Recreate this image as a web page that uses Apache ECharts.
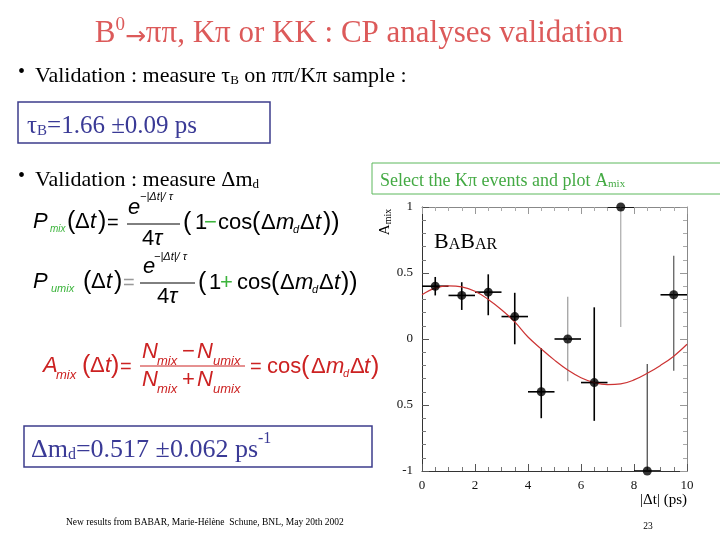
<!DOCTYPE html>
<html><head><meta charset="utf-8">
<script src="https://cdn.jsdelivr.net/npm/echarts@6/dist/echarts.min.js"></script>
<style>html,body{margin:0;padding:0;background:#fff}#c{width:720px;height:540px}</style>
</head><body><div id="c"></div>
<script>
// ---- data ----
const binCenters = [0.5, 1.5, 2.5, 3.5, 4.5, 5.5, 6.5, 7.5, 8.5, 9.5];
const binLow     = [0, 1, 2, 3, 4, 5, 6, 7, 8, 9];
const binHigh    = [1, 2, 3, 4, 5, 6, 7, 8, 9, 10];
const amixValues = [0.40, 0.33, 0.355, 0.17, -0.40, 0.0, -0.33, 1.0, -1.0, 0.335];
const amixErrLow = [0.33, 0.22, 0.18, -0.04, -0.60, -0.32, -0.62, 0.09, -1.0, -0.24];
const amixErrHigh= [0.47, 0.43, 0.49, 0.35, -0.07, 0.32, 0.24, 1.0, -0.19, 0.63];
const fitT = [0, 0.5, 1, 1.5, 2, 2.5, 3, 3.5, 4, 4.5, 5, 5.5, 6, 6.5, 7, 7.5, 8, 8.5, 9, 9.5, 10];
const fitA = [0.335, 0.385, 0.402, 0.395, 0.362, 0.30, 0.222, 0.13, 0.015, -0.075, -0.16, -0.235, -0.293, -0.33, -0.345, -0.34, -0.31, -0.26, -0.20, -0.13, -0.04];
const yTickValues = [-1, -0.5, 0, 0.5, 1];
const yTickLabels = ['-1', '0.5', '0', '0.5', '1'];
const xTickLabels = ['0', '2', '4', '6', '8', '10'];

// ---- styling ----
const SERIF = '"Liberation Serif","Times New Roman",serif';
const SANS = '"Liberation Sans",Arial,sans-serif';
const GREEN = '#3cb43c', RED = '#cc2222', BLUE = '#3a3a96', TITLE = '#dc5a5a';
const vBarColors = ['#000','#000','#000','#000','#000','#9a9a9a','#000','#aaaaaa','#444','#555'];

function T(x, y, text, font, fill, align) {
  return {type:'text', x:x, y:y, silent:true,
    style:{text:text, font:font, fill:fill||'#000', align:align||'left', verticalAlign:'middle'}};
}
function L(x1, y1, x2, y2, color, w) {
  return {type:'line', silent:true, shape:{x1:x1,y1:y1,x2:x2,y2:y2}, style:{stroke:color||'#000', lineWidth:w||1}};
}
const f = (sz, it) => (it ? 'italic ' : '') + sz + 'px ' + SANS;

const g = [];
// title
g.push({type:'text', x:359, y:32, silent:true, style:{
  text:'{a|B}{b|0}{r|→}{a|ππ, Kπ or KK : CP analyses validation}', align:'center', verticalAlign:'middle',
  rich:{a:{fontSize:31, fontFamily:SERIF, fill:TITLE, lineHeight:35, verticalAlign:'bottom'},
        b:{fontSize:19, fontFamily:SERIF, fill:TITLE, lineHeight:35, verticalAlign:'top', padding:[1,0,0,0]},
        r:{fontSize:25, fontFamily:'"DejaVu Sans",sans-serif', fill:TITLE, lineHeight:31, verticalAlign:'bottom'}}}});
// bullet 1
g.push(T(18, 73, '•', '20px ' + SERIF));
g.push({type:'text', x:35, y:73, silent:true, style:{
  text:'{a|Validation : measure τ}{s|B}{a| on ππ/Kπ sample :}', align:'left', verticalAlign:'middle',
  rich:{a:{fontSize:22, fontFamily:SERIF, fill:'#000', lineHeight:28, verticalAlign:'bottom'},
        s:{fontSize:13, fontFamily:SERIF, fill:'#000', lineHeight:24, verticalAlign:'bottom'}}}});
// box 1
g.push({type:'rect', silent:true, shape:{x:18, y:102, width:252, height:41}, style:{fill:'none', stroke:'#3c3c8c', lineWidth:1.5}});
g.push({type:'text', x:27, y:124, silent:true, style:{
  text:'{a|τ}{s|B}{a|=1.66 ±0.09 ps}', align:'left', verticalAlign:'middle',
  rich:{a:{fontSize:25, fontFamily:SERIF, fill:BLUE, lineHeight:30, verticalAlign:'bottom'},
        s:{fontSize:15, fontFamily:SERIF, fill:BLUE, lineHeight:24, verticalAlign:'bottom'}}}});
// bullet 2
g.push(T(18, 177, '•', '20px ' + SERIF));
g.push({type:'text', x:35, y:177, silent:true, style:{
  text:'{a|Validation : measure Δm}{s|d}', align:'left', verticalAlign:'middle',
  rich:{a:{fontSize:22, fontFamily:SERIF, fill:'#000', lineHeight:28, verticalAlign:'bottom'},
        s:{fontSize:13, fontFamily:SERIF, fill:'#000', lineHeight:24, verticalAlign:'bottom'}}}});
// green box
g.push({type:'rect', silent:true, shape:{x:372, y:163, width:360, height:31}, style:{fill:'none', stroke:'#5cb85c', lineWidth:1}});
g.push({type:'text', x:380, y:179, silent:true, style:{
  text:'{a|Select the Kπ events and plot A}{s|mix}', align:'left', verticalAlign:'middle',
  rich:{a:{fontSize:18, fontFamily:SERIF, fill:'#44aa44', lineHeight:22, verticalAlign:'bottom'},
        s:{fontSize:11, fontFamily:SERIF, fill:'#44aa44', lineHeight:18, verticalAlign:'bottom'}}}});

// formula 1 : P_mix
(function(){
  const y = 222;
  g.push(T(33, y, 'P', f(22,1)), T(50, y+7, 'mix', f(10,1), GREEN),
    T(67, y, '(', f(25)), T(75, y, 'Δ', f(22)), T(90, y, 't', f(22,1)), T(98, y, ')', f(25)),
    T(107, y+1, '=', f(20)),
    T(128, 208, 'e', f(22,1)), T(140, 197, '−|Δt|/ τ', f(11,1)),
    L(127, 224, 180, 224, '#000', 1),
    T(142, 239, '4', f(22)), T(154, 239, 'τ', f(22,1)),
    T(183, y+1, '(', f(25)), T(195, y+1, '1', f(22)), T(204, y+1, '−', f(22), GREEN),
    T(218, y+1, 'cos', f(22)), T(252, y+1, '(', f(25)), T(261, y+1, 'Δ', f(22)),
    T(276, y+1, 'm', f(22,1)), T(293, y+8, 'd', f(11,1)), T(300, y+1, 'Δ', f(22)),
    T(315, y+1, 't', f(22,1)), T(323, y+1, '))', f(25)));
})();
// formula 2 : P_umix
(function(){
  const y = 282;
  g.push(T(33, y, 'P', f(22,1)), T(51, y+7, 'umix', f(11,1), GREEN),
    T(83, y, '(', f(25)), T(91, y, 'Δ', f(22)), T(106, y, 't', f(22,1)), T(114, y, ')', f(25)),
    T(123, y+1, '=', f(20), '#999'),
    T(143, 267, 'e', f(22,1)), T(154, 257, '−|Δt|/ τ', f(11,1)),
    L(140, 283, 195, 283, '#000', 1),
    T(157, 297, '4', f(22)), T(169, 297, 'τ', f(22,1)),
    T(198, y+1, '(', f(25)), T(209, y+1, '1', f(22)), T(220, y+1, '+', f(22), GREEN),
    T(237, y+1, 'cos', f(22)), T(271, y+1, '(', f(25)), T(280, y+1, 'Δ', f(22)),
    T(295, y+1, 'm', f(22,1)), T(312, y+8, 'd', f(11,1)), T(319, y+1, 'Δ', f(22)),
    T(334, y+1, 't', f(22,1)), T(341, y+1, '))', f(25)));
})();
// formula 3 : A_mix
(function(){
  const y = 366;
  g.push(T(43, y, 'A', f(22,1), RED), T(56, y+9, 'mix', f(13,1), RED),
    T(82, y, '(', f(25), RED), T(90, y, 'Δ', f(22), RED), T(105, y, 't', f(22,1), RED), T(111, y, ')', f(25), RED),
    T(120, y+1, '=', f(20), RED),
    T(142, 352, 'N', f(22,1), RED), T(157, 361, 'mix', f(13,1), RED), T(182, 352, '−', f(22), RED),
    T(197, 352, 'N', f(22,1), RED), T(213, 361, 'umix', f(13,1), RED),
    L(140, 366, 245, 366, RED, 1),
    T(142, 380, 'N', f(22,1), RED), T(157, 389, 'mix', f(13,1), RED), T(182, 380, '+', f(22), RED),
    T(197, 380, 'N', f(22,1), RED), T(213, 389, 'umix', f(13,1), RED),
    T(250, y+1, '=', f(20), RED), T(267, y+1, 'cos', f(22), RED), T(301, y+1, '(', f(25), RED),
    T(311, y+1, 'Δ', f(22), RED), T(326, y+1, 'm', f(22,1), RED), T(343, y+8, 'd', f(11,1), RED),
    T(350, y+1, 'Δ', f(22), RED), T(364, y+1, 't', f(22,1), RED), T(371, y+1, ')', f(25), RED));
})();
// box 2
g.push({type:'rect', silent:true, shape:{x:24, y:426, width:348, height:41}, style:{fill:'none', stroke:'#3c3c8c', lineWidth:1.5}});
g.push({type:'text', x:31, y:447, silent:true, style:{
  text:'{a|Δm}{s|d}{a|=0.517 ±0.062 ps}{p|-1}', align:'left', verticalAlign:'middle',
  rich:{a:{fontSize:26, fontFamily:SERIF, fill:BLUE, lineHeight:32, verticalAlign:'bottom'},
        s:{fontSize:16, fontFamily:SERIF, fill:BLUE, lineHeight:26, verticalAlign:'bottom'},
        p:{fontSize:16, fontFamily:SERIF, fill:BLUE, lineHeight:32, verticalAlign:'top'}}}});
// footer
g.push(T(66, 522, 'New results from BABAR, Marie-Hélène  Schune, BNL, May 20th 2002', '9.5px ' + SERIF));
g.push(T(648, 526, '23', '9.5px ' + SERIF, '#000', 'center'));
// plot decorations
g.push({type:'text', x:434, y:240, silent:true, style:{
  text:'{b|B}{a|A}{b|B}{a|AR}', align:'left', verticalAlign:'middle',
  rich:{b:{fontSize:22, fontFamily:SERIF, fill:'#000', lineHeight:26, verticalAlign:'bottom'},
        a:{fontSize:16, fontFamily:SERIF, fill:'#000', lineHeight:24, verticalAlign:'bottom'}}}});
g.push({type:'text', x:384, y:222, rotation:Math.PI/2, silent:true, style:{
  text:'{a|A}{s|mix}', align:'center', verticalAlign:'middle',
  rich:{a:{fontSize:15, fontFamily:SERIF, fill:'#000', lineHeight:18, verticalAlign:'bottom'},
        s:{fontSize:10, fontFamily:SERIF, fill:'#000', lineHeight:14, verticalAlign:'bottom'}}}});
g.push(T(687, 500, '|Δt| (ps)', '15px ' + SERIF, '#000', 'right'));

const chart = echarts.init(document.getElementById('c'), null, {renderer:'canvas'});
const axisCommon = {type:'value', splitLine:{show:false}};
const labelStyle = {fontFamily:SERIF, fontSize:13, color:'#111'};
chart.setOption({
  backgroundColor:'#fff',
  animation:false,
  grid:{left:422, top:207, width:265, height:264},
  xAxis:[
    Object.assign({}, axisCommon, {min:0, max:10, interval:2, position:'bottom',
      axisLine:{onZero:false, lineStyle:{color:'#333', width:1}},
      axisTick:{inside:true, length:7, lineStyle:{color:'#555'}},
      minorTick:{show:true, splitNumber:4, length:4, lineStyle:{color:'#777'}},
      axisLabel:Object.assign({margin:8, formatter:v => xTickLabels[Math.round(v/2)]}, labelStyle)}),
    Object.assign({}, axisCommon, {min:0, max:10, interval:2, position:'top',
      axisLine:{onZero:false, lineStyle:{color:'#888', width:1}},
      axisTick:{inside:true, length:7, lineStyle:{color:'#999'}},
      minorTick:{show:true, splitNumber:4, length:4, lineStyle:{color:'#aaa'}},
      axisLabel:{show:false}})
  ],
  yAxis:[
    Object.assign({}, axisCommon, {min:-1, max:1, interval:0.5, position:'left',
      axisLine:{onZero:false, lineStyle:{color:'#333', width:1}},
      axisTick:{inside:true, length:7, lineStyle:{color:'#555'}},
      minorTick:{show:true, splitNumber:5, length:4, lineStyle:{color:'#777'}},
      axisLabel:Object.assign({margin:9, formatter:v => {
        const i = yTickValues.findIndex(t => Math.abs(t - v) < 1e-6); return i >= 0 ? yTickLabels[i] : '';}}, labelStyle)}),
    Object.assign({}, axisCommon, {min:-1, max:1, interval:0.5, position:'right',
      axisLine:{onZero:false, lineStyle:{color:'#888', width:1}},
      axisTick:{inside:true, length:7, lineStyle:{color:'#999'}},
      minorTick:{show:true, splitNumber:5, length:4, lineStyle:{color:'#aaa'}},
      axisLabel:{show:false}})
  ],
  series:[
    {type:'custom', xAxisIndex:0, yAxisIndex:0, clip:true, z:2,
      data: binCenters.map((x, i) => [x, amixValues[i], amixErrLow[i], amixErrHigh[i], binLow[i], binHigh[i]]),
      encode:{x:[0,4,5], y:[1,2,3]},
      renderItem:function(params, api){
        const i = params.dataIndex;
        const lo = api.coord([api.value(0), api.value(2)]);
        const hi = api.coord([api.value(0), api.value(3)]);
        const l = api.coord([api.value(4), api.value(1)]);
        const r = api.coord([api.value(5), api.value(1)]);
        return {type:'group', children:[
          {type:'line', shape:{x1:l[0], y1:l[1], x2:r[0], y2:r[1]}, style:{stroke:'#000', lineWidth:1.6}},
          {type:'line', shape:{x1:lo[0], y1:lo[1], x2:hi[0], y2:hi[1]}, style:{stroke:vBarColors[i], lineWidth:vBarColors[i]==='#000'?1.6:1.2}}
        ]};
      }},
    {type:'line', xAxisIndex:0, yAxisIndex:0, z:3, smooth:0.4, showSymbol:false, symbol:'none',
      data: fitT.map((t, i) => [t, fitA[i]]),
      lineStyle:{color:'#cc3333', width:1.2}},
    {type:'scatter', xAxisIndex:0, yAxisIndex:0, z:4, symbol:'circle', symbolSize:9, clip:true,
      itemStyle:{color:'#000'},
      data: binCenters.map((x, i) => [x, amixValues[i]])}
  ],
  graphic:g
});
</script></body></html>
